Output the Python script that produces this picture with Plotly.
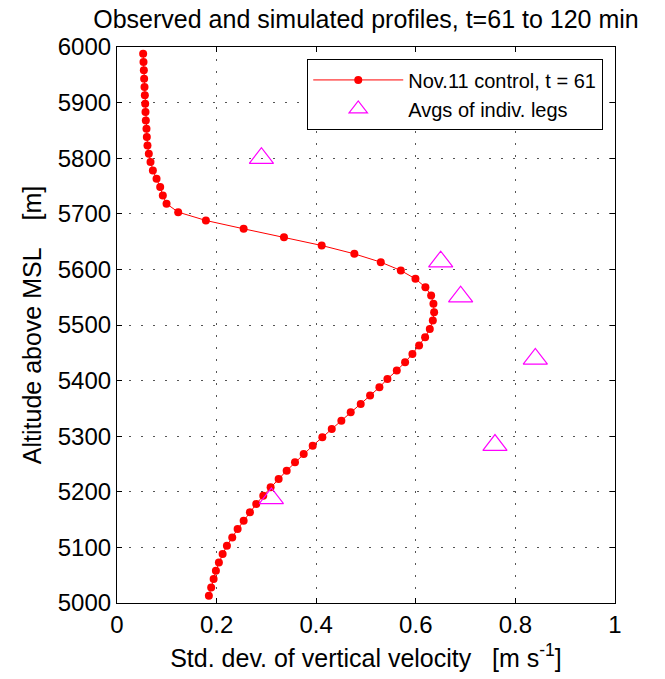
import plotly.graph_objects as go

# Simulated profile (Nov.11 control, t = 61)
sim_alt = [5988, 5973, 5958, 5943, 5928, 5913, 5898, 5883, 5868, 5853,
           5838, 5823, 5808, 5793, 5778, 5763, 5748, 5733, 5718, 5703,
           5688, 5673, 5658, 5643, 5628, 5613, 5598, 5583, 5568, 5553,
           5538, 5523, 5508, 5493, 5478, 5463, 5448, 5433, 5418, 5403,
           5388, 5373, 5358, 5343, 5328, 5313, 5298, 5283, 5268, 5253,
           5238, 5223, 5208, 5193, 5178, 5163, 5148, 5133, 5118, 5103,
           5088, 5073, 5058, 5043, 5028, 5013]
sim_std = [0.0525, 0.0532, 0.0539, 0.0545, 0.0552, 0.0559, 0.0566, 0.0572, 0.0579, 0.0592,
           0.0599, 0.0612, 0.0639, 0.0673, 0.0720, 0.0794, 0.0867, 0.0920, 0.0995, 0.1229,
           0.1785, 0.2543, 0.3353, 0.4110, 0.4766, 0.5297, 0.5699, 0.5993, 0.6193, 0.6308,
           0.6354, 0.6368, 0.6342, 0.6281, 0.6187, 0.6066, 0.5932, 0.5785, 0.5618, 0.5430,
           0.5269, 0.5082, 0.4894, 0.4693, 0.4505, 0.4312, 0.4123, 0.3930, 0.3749, 0.3574,
           0.3407, 0.3246, 0.3085, 0.2937, 0.2796, 0.2669, 0.2543, 0.2422, 0.2314, 0.2207,
           0.2121, 0.2046, 0.1986, 0.1940, 0.1891, 0.1845]

# Observed averages of individual legs
obs_std = [0.290, 0.650, 0.690, 0.840, 0.759, 0.310]
obs_alt = [5800, 5614, 5551, 5439, 5284, 5188]

x_ticks = [0, 0.2, 0.4, 0.6, 0.8, 1]
y_ticks = [5000, 5100, 5200, 5300, 5400, 5500, 5600, 5700, 5800, 5900, 6000]

FONT = "Liberation Sans, Arial, Helvetica, sans-serif"

fig = go.Figure()
fig.add_trace(go.Scatter(
    x=sim_std, y=sim_alt, mode="lines+markers",
    name="Nov.11 control, t = 61",
    line=dict(color="#ff0000", width=1),
    marker=dict(color="#ff0000", size=8, symbol="circle"),
))
fig.add_trace(go.Scatter(
    x=obs_std, y=obs_alt, mode="markers",
    name="Avgs of indiv. legs",
    marker=dict(color="#ff00ff", size=21, symbol="triangle-up-open",
                line=dict(width=1.2, color="#ff00ff")),
))

axis_common = dict(
    showline=True, linecolor="black", linewidth=1.2, mirror="allticks",
    ticks="inside", ticklen=5, tickwidth=1, tickcolor="black",
    showgrid=True, gridcolor="#555555", gridwidth=1, griddash="2px,10px",
    zeroline=False,
    tickfont=dict(family=FONT, size=24, color="black"),
)

fig.update_xaxes(range=[0, 1], tickvals=x_ticks, ticktext=[str(v) for v in x_ticks],
                 title=dict(text="Std. dev. of vertical velocity   [m s<sup>-1</sup>]",
                            font=dict(family=FONT, size=25, color="black"), standoff=12),
                 **axis_common)
fig.update_yaxes(range=[5000, 6000], tickvals=y_ticks, ticktext=[str(v) for v in y_ticks],
                 title=dict(text="Altitude above MSL    [m]",
                            font=dict(family=FONT, size=25, color="black"), standoff=8),
                 **axis_common)

fig.update_layout(
    width=665, height=679,
    margin=dict(l=117, r=50, t=47, b=76),
    plot_bgcolor="white", paper_bgcolor="white",
    title=dict(text="Observed and simulated profiles, t=61 to 120 min",
               font=dict(family=FONT, size=25, color="black"),
               x=0.5, xanchor="center", xref="paper",
               y=1 - 19 / 679, yanchor="middle", yref="container"),
    legend=dict(x=0.976, y=0.978, xanchor="right", yanchor="top",
                bordercolor="black", borderwidth=1.2, bgcolor="white",
                font=dict(family=FONT, size=20, color="black"),
                itemwidth=90, tracegroupgap=0),
    showlegend=True,
)

fig.write_html("out.html")
